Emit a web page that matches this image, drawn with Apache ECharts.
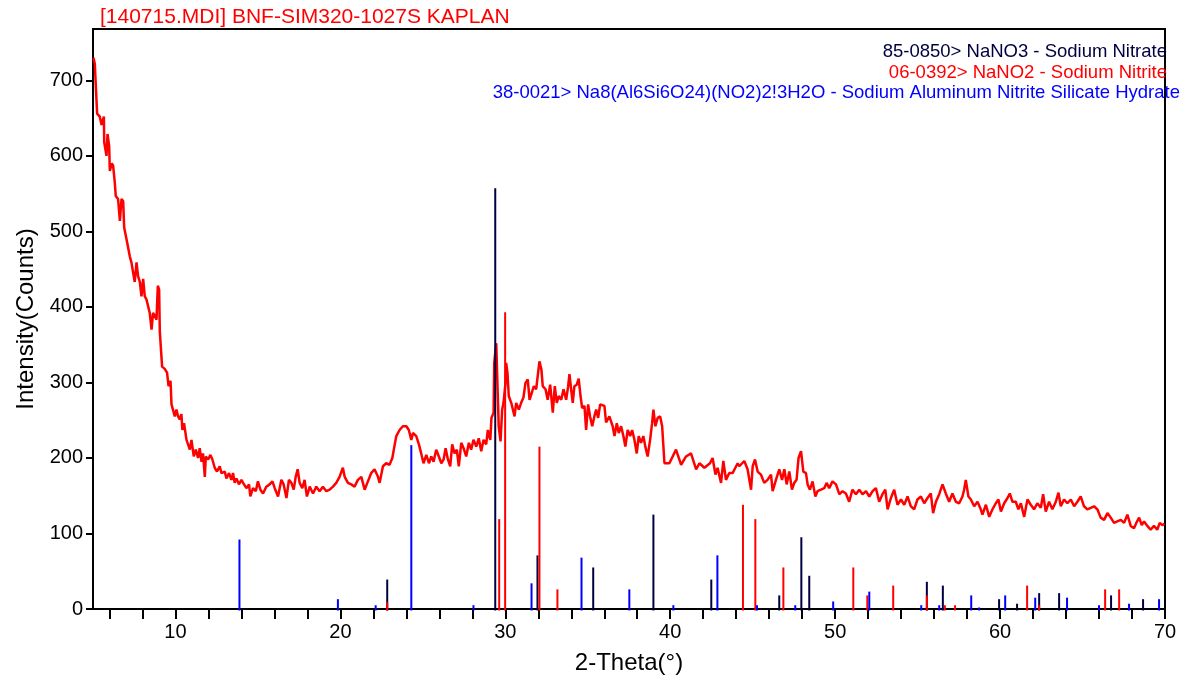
<!DOCTYPE html>
<html><head><meta charset="utf-8">
<script src="https://cdn.jsdelivr.net/npm/echarts@6/dist/echarts.min.js"></script>
<style>html,body{margin:0;padding:0;background:#fff}#c{width:1193px;height:682px}</style>
</head><body><div id="c"></div>
<script>
// ---- data ----
var titleText = '[140715.MDI] BNF-SIM320-1027S KAPLAN';
var phaseLabels = [
  '85-0850> NaNO3 - Sodium Nitrate',
  '06-0392> NaNO2 - Sodium Nitrite',
  '38-0021> Na8(Al6Si6O24)(NO2)2!3H2O - Sodium Aluminum Nitrite Silicate Hydrate'
];
var xTickValues = [6,8,10,12,14,16,18,20,22,24,26,28,30,32,34,36,38,40,42,44,46,48,50,52,54,56,58,60,62,64,66,68,70];
var xLabelValues = [10,20,30,40,50,60,70];
var yLabelValues = [0,100,200,300,400,500,600,700];

// measured scan: [2-theta, counts]
var scanPoints = [
[5.03,730],[5.11,722],[5.17,693],[5.25,656],[5.41,652],[5.52,641],[5.66,652],[5.68,618],[5.82,600],[5.88,629],
[5.98,613],[6.02,580],[6.14,590],[6.22,587],[6.32,565],[6.38,547],[6.52,543],[6.63,514],[6.73,543],[6.83,540],
[6.89,505],[7.03,490],[7.13,488],[7.23,467],[7.33,459],[7.43,446],[7.53,433],[7.64,459],[7.73,441],[7.84,433],
[7.94,414],[8.04,437],[8.14,414],[8.24,410],[8.34,412],[8.44,392],[8.55,370],[8.64,392],[8.75,388],[8.85,383],
[8.93,428],[9.01,423],[9.05,368],[9.15,366],[9.19,321],[9.35,318],[9.49,313],[9.58,295],[9.70,302],[9.76,271],
[9.85,269],[9.96,255],[10.06,264],[10.16,255],[10.26,251],[10.36,258],[10.42,237],[10.52,246],[10.67,224],[10.76,226],
[10.87,211],[10.97,224],[11.11,202],[11.23,211],[11.37,200],[11.47,213],[11.58,195],[11.67,206],[11.78,175],[11.84,202],
[11.98,198],[12.12,204],[12.24,198],[12.38,187],[12.52,182],[12.68,189],[12.79,180],[12.99,182],[13.09,173],[13.25,180],
[13.39,171],[13.49,180],[13.59,167],[13.70,173],[13.85,165],[14.00,171],[14.10,167],[14.30,160],[14.46,165],[14.54,149],
[14.70,160],[14.87,156],[15.00,169],[15.15,158],[15.31,153],[15.51,162],[15.71,165],[15.88,169],[16.02,160],[16.22,149],
[16.42,171],[16.56,165],[16.73,147],[16.88,171],[17.03,167],[17.17,158],[17.29,175],[17.41,185],[17.53,167],[17.69,160],
[17.83,171],[17.97,149],[18.09,158],[18.14,162],[18.34,153],[18.54,162],[18.74,156],[18.94,162],[19.15,156],[19.35,158],
[19.55,162],[19.75,167],[19.95,175],[20.15,187],[20.26,175],[20.46,167],[20.66,165],[20.86,162],[21.06,171],[21.27,175],
[21.47,158],[21.67,169],[21.87,180],[22.07,185],[22.28,175],[22.38,167],[22.58,189],[22.78,193],[22.98,191],[23.15,200],
[23.24,211],[23.39,229],[23.59,237],[23.79,242],[24.00,242],[24.15,237],[24.30,224],[24.40,233],[24.60,229],[24.76,218],
[24.90,206],[25.04,193],[25.21,204],[25.37,193],[25.51,202],[25.65,195],[25.81,211],[25.97,202],[26.12,193],[26.26,198],
[26.38,213],[26.52,198],[26.66,189],[26.78,218],[26.92,206],[27.06,211],[27.18,189],[27.33,220],[27.47,213],[27.63,202],
[27.79,220],[27.93,211],[28.07,224],[28.24,215],[28.39,226],[28.54,209],[28.68,224],[28.84,218],[28.94,237],[29.09,224],
[29.16,253],[29.29,260],[29.33,326],[29.41,344],[29.45,352],[29.60,242],[29.71,222],[29.81,264],[29.89,273],[30.01,299],
[30.05,326],[30.13,313],[30.21,282],[30.36,273],[30.45,275],[30.56,255],[30.66,273],[30.82,264],[30.96,273],[31.10,280],
[31.22,299],[31.36,304],[31.47,277],[31.63,288],[31.73,295],[31.87,291],[31.99,313],[32.07,328],[32.19,317],[32.27,295],
[32.44,291],[32.57,277],[32.72,297],[32.88,260],[33.00,295],[33.12,273],[33.24,282],[33.39,277],[33.53,291],[33.69,277],
[33.81,295],[33.89,311],[33.99,291],[34.09,273],[34.19,295],[34.33,297],[34.45,305],[34.56,282],[34.66,266],[34.80,269],
[34.90,237],[35.02,271],[35.14,255],[35.27,242],[35.40,255],[35.51,264],[35.63,253],[35.75,271],[35.87,273],[36.01,269],
[36.11,247],[36.31,255],[36.51,242],[36.62,229],[36.76,246],[36.88,233],[37.02,242],[37.16,229],[37.28,215],[37.42,237],
[37.57,229],[37.69,237],[37.83,224],[37.97,206],[38.09,229],[38.23,220],[38.37,229],[38.49,215],[38.63,202],[38.78,224],
[38.90,246],[38.98,264],[39.10,242],[39.24,253],[39.39,255],[39.51,242],[39.65,193],[39.95,193],[40.35,211],[40.66,191],
[40.96,202],[41.26,206],[41.57,185],[41.77,193],[42.07,187],[42.41,193],[42.57,200],[42.74,178],[42.87,187],[43.08,167],
[43.22,196],[43.38,171],[43.58,180],[43.78,180],[44.09,193],[44.19,189],[44.49,196],[44.69,185],[44.90,158],[45.00,189],
[45.14,198],[45.30,182],[45.50,178],[45.70,167],[45.90,171],[46.11,178],[46.21,156],[46.41,171],[46.61,185],[46.78,171],
[46.92,185],[47.06,165],[47.22,182],[47.38,158],[47.52,167],[47.66,171],[47.78,200],[47.93,209],[48.07,182],[48.23,180],
[48.33,165],[48.47,158],[48.63,169],[48.80,149],[48.93,156],[49.14,158],[49.34,160],[49.48,167],[49.64,160],[49.84,169],
[50.05,165],[50.25,152],[50.45,156],[50.65,153],[50.85,142],[51.05,158],[51.26,152],[51.46,158],[51.66,152],[51.87,156],
[52.07,149],[52.27,156],[52.47,160],[52.67,142],[52.87,152],[53.04,158],[53.18,132],[53.38,147],[53.58,158],[53.78,138],
[53.99,145],[54.19,138],[54.39,149],[54.59,136],[54.79,132],[54.99,145],[55.20,149],[55.40,140],[55.60,147],[55.80,153],
[55.94,127],[56.11,142],[56.31,152],[56.51,165],[56.71,153],[56.91,142],[57.11,153],[57.32,142],[57.52,140],[57.72,149],
[57.82,158],[57.92,171],[58.02,173],[58.08,149],[58.23,145],[58.43,136],[58.63,142],[58.83,132],[58.93,125],[59.14,138],
[59.34,122],[59.54,132],[59.74,140],[59.90,145],[60.05,129],[60.25,140],[60.45,147],[60.59,153],[60.75,142],[60.95,142],
[61.11,132],[61.26,140],[61.46,122],[61.66,145],[61.86,138],[62.06,132],[62.26,140],[62.47,134],[62.61,152],[62.77,129],
[62.97,142],[63.17,132],[63.38,142],[63.54,154],[63.68,136],[63.88,145],[64.08,140],[64.29,145],[64.49,136],[64.69,142],
[64.89,149],[65.09,136],[65.29,132],[65.50,134],[65.70,136],[65.90,132],[66.10,121],[66.31,118],[66.51,127],[66.71,121],
[66.91,114],[67.11,116],[67.32,118],[67.52,114],[67.72,125],[67.92,110],[68.12,107],[68.26,114],[68.43,121],[68.59,111],
[68.73,116],[68.93,110],[69.13,105],[69.33,110],[69.53,105],[69.68,114],[69.84,111],[69.97,113]
];

// reference stick patterns: [2-theta, height on count scale]
var nano3Sticks = [[22.84,39],[29.39,557],[31.95,71],[35.33,55],[38.98,125],[42.49,39],[46.61,18],[47.95,95],[48.43,44],
  [55.56,36],[56.53,31],[59.94,13],[61.03,7],[62.37,21],[63.58,21],[66.73,18],[68.67,13]];
var nano2Sticks = [[22.84,9],[29.63,119],[29.99,393],[32.07,215],[33.16,26],[44.41,138],[45.16,119],[46.86,55],[51.10,55],
  [51.95,18],[53.52,31],[55.56,18],[56.65,5],[57.27,5],[61.64,31],[62.37,5],[66.37,26],[67.22,26]];
var sodaliteSticks = [[13.88,92],[19.85,13],[22.14,5],[24.30,217],[28.07,5],[31.59,34],[34.62,68],[37.52,26],[40.19,5],
  [42.86,71],[45.26,5],[47.58,5],[49.88,10],[52.07,23],[55.22,5],[56.31,5],[58.25,18],[58.73,2],[60.31,18],[62.13,15],
  [64.06,15],[66.00,5],[67.82,7],[69.64,13]];

var colNavy = '#000040', colRed = '#ff0000', colBlue = '#0000ff';
var FONT = '"Liberation Sans", Arial, sans-serif';

function stickRenderer(color){
  return function(params, api){
    var p0 = api.coord([api.value(0), 0]);
    var p1 = api.coord([api.value(0), api.value(1)]);
    return {type:'line', shape:{x1:p0[0], y1:p0[1]+1.5, x2:p1[0], y2:p1[1]},
            style:{stroke:color, lineWidth:2}};
  };
}

var chart = echarts.init(document.getElementById('c'), null, {renderer:'canvas'});
chart.setOption({
  animation:false,
  backgroundColor:'#fff',
  title:{text:titleText, left:100, top:7, padding:0,
    textStyle:{color:colRed, fontSize:21, fontWeight:'normal', fontFamily:FONT}},
  grid:{left:93, right:28, top:29, bottom:73, show:true, borderColor:'#000', borderWidth:2, backgroundColor:'transparent'},
  xAxis:{type:'value', min:5, max:70,
    name:'2-Theta(°)', nameLocation:'middle', nameGap:42,
    nameTextStyle:{color:'#000', fontSize:24, fontFamily:FONT},
    axisLine:{lineStyle:{color:'#000', width:2}},
    axisTick:{show:true, length:10, lineStyle:{color:'#000', width:2}, customValues:xTickValues},
    axisLabel:{color:'#000', fontSize:20, fontFamily:FONT, margin:13, customValues:xLabelValues},
    splitLine:{show:false}},
  yAxis:{type:'value', min:0, max:768,
    name:'Intensity(Counts)', nameLocation:'middle', nameGap:53,
    nameTextStyle:{color:'#000', fontSize:24, fontFamily:FONT},
    axisLine:{show:true, lineStyle:{color:'#000', width:2}},
    axisTick:{show:true, length:7, lineStyle:{color:'#000', width:2}, customValues:yLabelValues},
    axisLabel:{color:'#000', fontSize:20, fontFamily:FONT, margin:10, customValues:yLabelValues},
    splitLine:{show:false}},
  graphic:[
    {type:'text', right:1193-1167, top:42, z:100, style:{text:phaseLabels[0], fill:colNavy, font:'18.5px '+FONT}},
    {type:'text', right:1193-1167, top:63, z:100, style:{text:phaseLabels[1], fill:colRed, font:'18.5px '+FONT}},
    {type:'text', right:1193-1180, top:83, z:100, style:{text:phaseLabels[2], fill:colBlue, font:'18.5px '+FONT}}
  ],
  series:[
    {type:'line', data:scanPoints, showSymbol:false, symbol:'none', z:2,
     lineStyle:{color:colRed, width:2.5}},
    {type:'custom', data:nano3Sticks, renderItem:stickRenderer(colNavy), z:3},
    {type:'custom', data:nano2Sticks, renderItem:stickRenderer(colRed), z:4},
    {type:'custom', data:sodaliteSticks, renderItem:stickRenderer(colBlue), z:5}
  ]
});
</script></body></html>
